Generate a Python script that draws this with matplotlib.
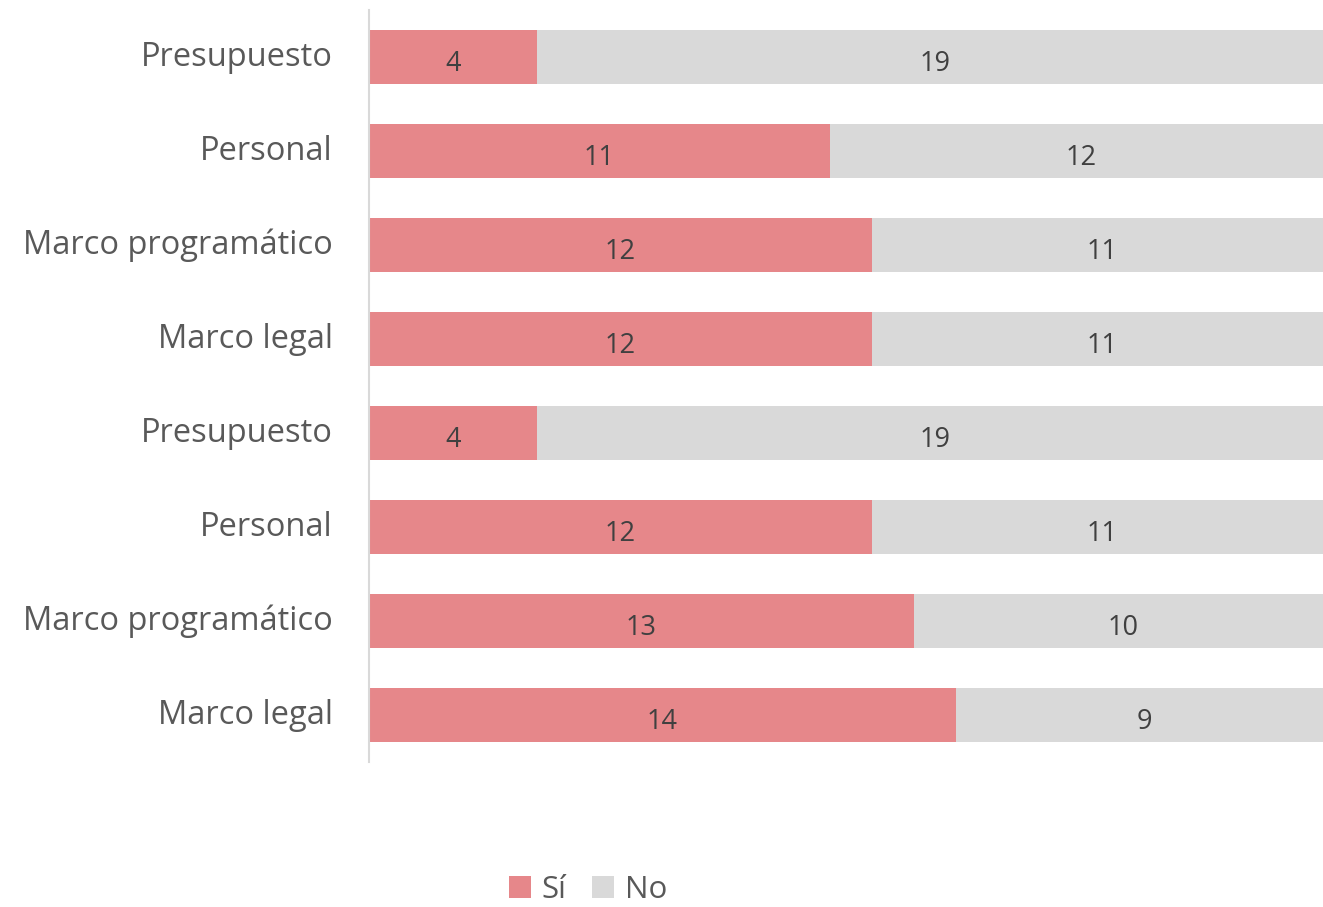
import numpy as np
import matplotlib
matplotlib.use("Agg")
import matplotlib.pyplot as plt

# datos (de arriba hacia abajo)
categorias = ["Presupuesto", "Personal", "Marco programático", "Marco legal",
              "Presupuesto", "Personal", "Marco programático", "Marco legal"]
si = [4, 11, 12, 12, 4, 12, 13, 14]
no = [19, 12, 11, 11, 19, 11, 10, 9]

COLOR_SI = "#E6878A"
COLOR_NO = "#D9D9D9"
TEXTO = "#595959"

plt.rcParams["font.family"] = ["Open Sans", "DejaVu Sans"]

fig = plt.figure(figsize=(13.23, 9.07), dpi=100)
ax = fig.add_axes([369 / 1323, 1 - 762 / 907, 1 - 369 / 1323, (762 - 10) / 907])

y = np.arange(len(categorias))
ax.barh(y, si, height=0.57, color=COLOR_SI, label="Sí")
ax.barh(y, no, left=si, height=0.57, color=COLOR_NO, label="No")

# etiquetas de valores
for i in range(len(categorias)):
    ax.text(si[i] / 2, y[i] + 0.07, str(si[i]), ha="center", va="center",
            fontsize=19.5, color="#404040")
    ax.text(si[i] + no[i] / 2, y[i] + 0.07, str(no[i]), ha="center", va="center",
            fontsize=19.5, color="#404040")

ax.set_xlim(0, (1323 - 369) / 41.9)
ax.set_ylim(len(categorias) - 0.5, -0.5)
ax.set_yticks(y)
ax.set_yticklabels(categorias, fontsize=23.5, color=TEXTO, va="center")
for lab in ax.get_yticklabels():
    lab.set_y(lab.get_position()[1])
ax.tick_params(axis="y", length=0, pad=26)
ax.set_xticks([])

for s in ["top", "right", "bottom"]:
    ax.spines[s].set_visible(False)
ax.spines["left"].set_color(COLOR_NO)
ax.spines["left"].set_linewidth(1.5)

fig.legend(loc="center", bbox_to_anchor=(588 / 1323, 1 - 890 / 907), ncol=2,
           frameon=False, fontsize=22.5, labelcolor=TEXTO, handlelength=0.7,
           handleheight=0.7, handletextpad=0.35, columnspacing=0.8)

fig.savefig("out.png", dpi=100)
